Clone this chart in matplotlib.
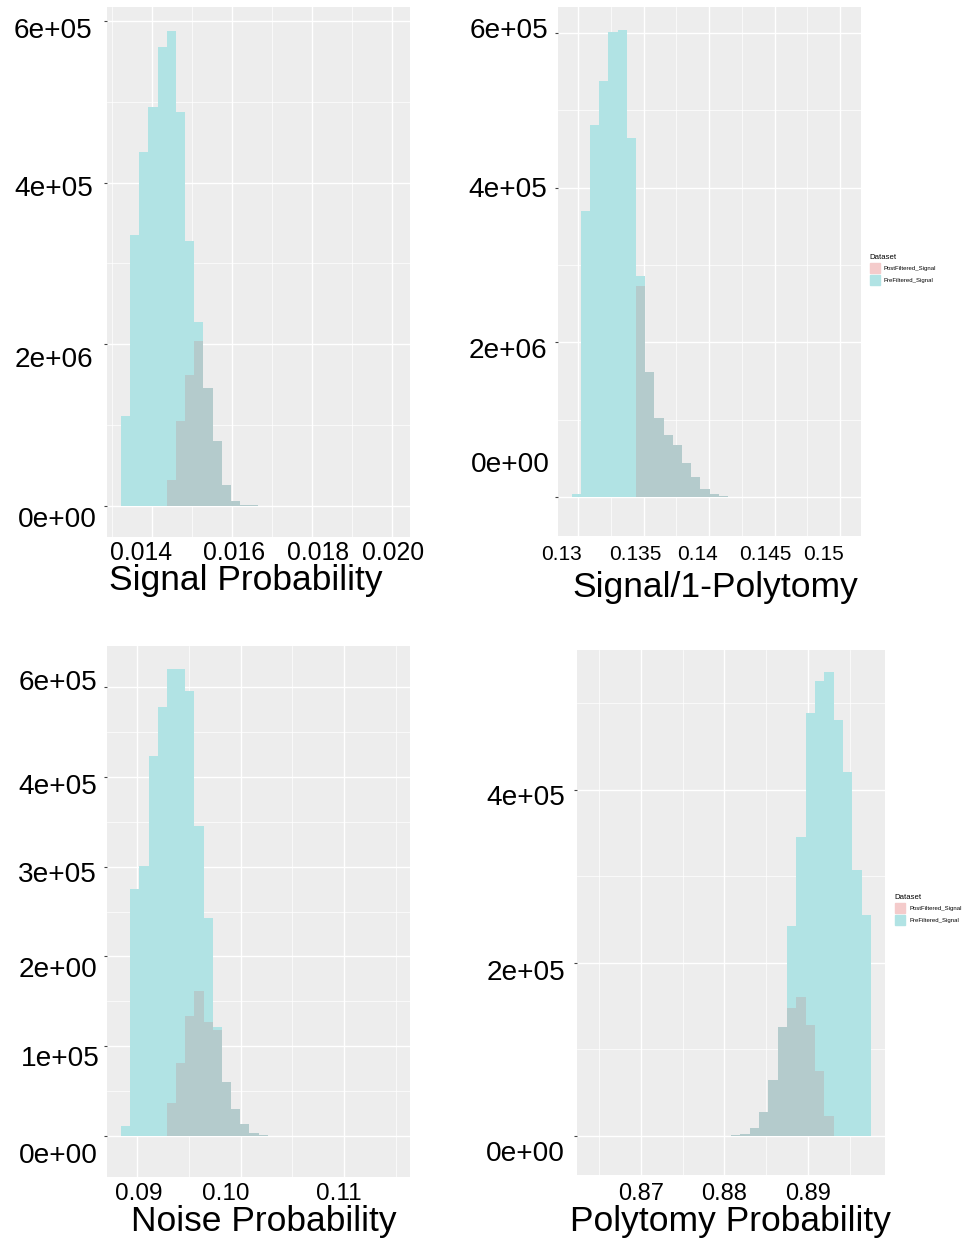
import numpy as np
import matplotlib
matplotlib.use("Agg")
import matplotlib.pyplot as plt

plt.rcParams['font.family'] = ['Liberation Sans', 'DejaVu Sans']

# ---------------- data (counts in thousands) ----------------
# Panel 1: Signal Probability
sig_bin_width = 0.000229
sig_pre_start = 0.013225
sig_pre_counts = [111.7, 335.4, 438.5, 494.1, 568.3, 587.6, 487.5, 328.4, 227.1]
sig_post_start = 0.013225 + 5 * 0.000229
sig_post_counts = [32.6, 105.1, 162.0, 204.4, 145.9, 80.8, 25.5, 6.6, 1.6, 0.6,
                   0.4, 0.25, 0.15, 0.1, 0.08, 0.05]

# Panel 2: Signal/1-Polytomy
rat_bin_width = 0.000702
rat_pre_start = 0.129517
rat_pre_counts = [3.9, 370.4, 481.3, 537.4, 601.3, 603.9, 464.5, 285.8]
rat_post_start = 0.129517 + 7 * 0.000702
rat_post_counts = [273.2, 161.9, 102.3, 79.9, 67.8, 44.5, 25.5, 10.4, 3.9, 1.3,
                   0.5, 0.2, 0.1]

# Panel 3: Noise Probability
noi_bin_width = 0.000886
noi_pre_start = 0.088454
noi_pre_counts = [11.2, 275.1, 301.1, 423.0, 478.1, 519.7, 520.4, 495.5, 345.7,
                  242.4, 121.2]
noi_post_start = 0.088454 + 5 * 0.000886
noi_post_counts = [36.4, 81.8, 133.8, 161.3, 127.1, 118.2, 60.2, 30.5, 13.8, 3.7,
                   1.1, 0.4, 0.2]

# Panel 4: Polytomy Probability
pol_bin_width = 0.00112
pol_post_start = 0.88188 - 2 * 0.00112
pol_post_counts = [0.2, 0.6, 2.3, 8.8, 28.1, 64.2, 126.5, 147.7, 161.2, 128.1,
                   75.0, 23.5]
pol_pre_start = 0.88188 + 5 * 0.00112
pol_pre_counts = [242.7, 345.4, 488.5, 525.4, 536.5, 480.8, 421.2, 307.7, 255.0]

# tick labels (as printed in the figure)
sig_xticks = [0.014, 0.016, 0.018, 0.020]
sig_xlabels = ["0.014", "0.016", "0.018", "0.020"]
sig_ylabels = ["6e+05", "4e+05", "2e+06", "0e+00"]
rat_xticks = [0.13, 0.135, 0.14, 0.145, 0.15]
rat_xlabels = ["0.13", "0.135", "0.14", "0.145", "0.15"]
rat_ylabels = ["6e+05", "4e+05", "2e+06", "0e+00"]
noi_xticks = [0.09, 0.10, 0.11]
noi_xlabels = ["0.09", "0.10", "0.11"]
noi_ylabels = ["6e+05", "4e+05", "3e+05", "2e+00", "1e+05", "0e+00"]
pol_xticks = [0.87, 0.88, 0.89]
pol_xlabels = ["0.87", "0.88", "0.89"]
pol_ylabels = ["4e+05", "2e+05", "0e+00"]

titles = ["Signal Probability", "Signal/1-Polytomy", "Noise Probability",
          "Polytomy Probability"]
legend_title = "Dataset"
legend_labels = ["PostFiltered_Signal", "PreFiltered_Signal"]

# ---------------- style ----------------
W, H = 964, 1245
BG = "#EDEDED"
CYAN = "#B1E3E4"
GRAY = "#B4CBCC"
PINK = "#F4CBCB"

fig = plt.figure(figsize=(W / 100, H / 100), dpi=100)


def add_axes(l, t, r, b):
    return fig.add_axes([l / W, 1 - b / H, (r - l) / W, (b - t) / H])


def ftext(x, y, s, size, ha="center"):
    fig.text(x / W, 1 - y / H, s, fontsize=size, ha=ha, va="baseline",
             color="black")


def panel(box, pre_start, pre_counts, post_start, post_counts, width,
          xlim, ylim, xmaj, xmin, ymaj, ymin):
    ax = add_axes(*box)
    ax.set_facecolor(BG)
    pre = np.array(pre_counts) * 1000
    post = np.array(post_counts) * 1000
    pre_edges = pre_start + width * np.arange(len(pre))
    post_edges = post_start + width * np.arange(len(post))
    ax.bar(pre_edges, pre, width=width, align="edge", color=CYAN, linewidth=0,
           zorder=2)
    ax.bar(post_edges, post, width=width, align="edge", color=GRAY, linewidth=0,
           zorder=3)
    ax.set_xlim(*xlim)
    ax.set_ylim(*ylim)
    ax.set_xticks(xmaj)
    ax.set_xticks(xmin, minor=True)
    ax.set_yticks(ymaj)
    ax.set_yticks(ymin, minor=True)
    ax.grid(which="major", color="white", linewidth=1.0, zorder=0)
    ax.grid(which="minor", color="white", linewidth=0.5, zorder=0)
    ax.set_axisbelow(True)
    ax.tick_params(axis="x", which="both", length=0, labelbottom=False)
    ax.tick_params(axis="y", which="major", length=2, width=0.8,
                   color="#444444", labelleft=False)
    ax.tick_params(axis="y", which="minor", length=0)
    for s in ax.spines.values():
        s.set_visible(False)
    return ax


# Panel 1
panel((107, 7, 410, 537), sig_pre_start, sig_pre_counts, sig_post_start,
      sig_post_counts, sig_bin_width, (0.012875, 0.02045), (-38400, 617300),
      sig_xticks, [0.013, 0.015, 0.017, 0.019],
      [0, 200000, 400000, 600000], [100000, 300000, 500000])
# Panel 2
panel((558, 7, 861, 536), rat_pre_start, rat_pre_counts, rat_post_start,
      rat_post_counts, rat_bin_width, (0.128473, 0.151603), (-50400, 633600),
      rat_xticks, [0.1325, 0.1375, 0.1425, 0.1475],
      [0, 200000, 400000, 600000], [100000, 300000, 500000])
# Panel 3
panel((107, 646, 410, 1177), noi_pre_start, noi_pre_counts, noi_post_start,
      noi_post_counts, noi_bin_width, (0.087101, 0.116377), (-45700, 545700),
      noi_xticks, [0.095, 0.105, 0.115],
      [0, 100000, 200000, 300000, 400000, 500000],
      [50000, 150000, 250000, 350000, 450000])
# Panel 4
panel((577, 650, 885, 1175), pol_pre_start, pol_pre_counts, pol_post_start,
      pol_post_counts, pol_bin_width, (0.862335, 0.899222), (-45100, 561800),
      pol_xticks, [0.865, 0.875, 0.885, 0.895],
      [0, 200000, 400000], [100000, 300000, 500000])

# ---------------- tick labels as printed ----------------
# y labels: (right x, baseline y) in pixels
for lab, (x, y) in zip(sig_ylabels, [(92, 38), (93, 196), (93, 367), (97, 527)]):
    ftext(x, y, lab, 20.2, ha="right")
for lab, (x, y) in zip(rat_ylabels, [(548, 38), (547, 197), (547, 358), (550, 472)]):
    ftext(x, y, lab, 20.2, ha="right")
for lab, (x, y) in zip(noi_ylabels, [(97, 690), (97, 794), (97, 882), (97, 977),
                                     (100, 1066), (98, 1163)]):
    ftext(x, y, lab, 20.2, ha="right")
for lab, (x, y) in zip(pol_ylabels, [(565, 805), (565, 980), (565, 1161)]):
    ftext(x, y, lab, 20.2, ha="right")

# x labels: (center x), baseline y
for lab, x in zip(sig_xlabels, [141, 234, 318, 393]):
    ftext(x, 560.5, lab, 17.8)
for lab, x in zip(rat_xlabels, [561.7, 635, 698, 765, 824]):
    ftext(x, 559.5, lab, 15.0)
for lab, x in zip(noi_xlabels, [139, 226, 339]):
    ftext(x, 1200.5, lab, 17.5)
for lab, x in zip(pol_xlabels, [641, 724, 808]):
    ftext(x, 1199.5, lab, 17.0)

# axis titles
ftext(245.5, 590, titles[0], 25.5)
ftext(715.5, 597, titles[1], 25.5)
ftext(263.5, 1231, titles[2], 25.5)
ftext(731, 1231, titles[3], 25.5)


# ---------------- legends ----------------
def legend(x0, y0):
    ftext(x0, y0 + 3, legend_title, 5.6, ha="left")
    for i, (lab, col) in enumerate(zip(legend_labels, [PINK, CYAN])):
        ky = y0 + 7 + i * 12
        fig.patches.append(plt.Rectangle(((x0 + 1) / W, 1 - (ky + 10) / H),
                                         10 / W, 10 / H, color=col,
                                         transform=fig.transFigure))
        ftext(x0 + 15, ky + 7, lab, 4.3, ha="left")


legend(869, 256)
legend(894, 896)

fig.savefig("out.png", dpi=100)
